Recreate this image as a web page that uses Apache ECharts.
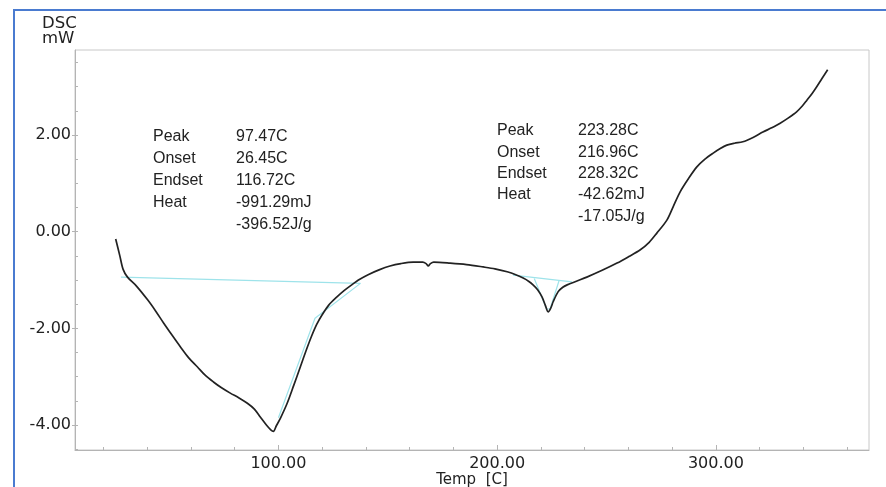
<!DOCTYPE html>
<html>
<head>
<meta charset="utf-8">
<script src="https://cdn.jsdelivr.net/npm/echarts@6/dist/echarts.min.js"></script>
<style>
  html, body { margin: 0; padding: 0; background: #fff; }
  #chart { width: 886px; height: 487px; }
</style>
</head>
<body>
<div id="chart"></div>
<script>
// DSC thermogram: heat flow (mW) vs temperature (C)
const tempC = [
  25.6, 27.5, 29.0, 31.0, 35.0, 40.2, 44.0, 47.5, 51.5, 55.3,
  59.0, 63.0, 66.5, 70.3, 74.0, 78.0, 82.0, 85.8, 89.0, 91.8,
  94.5, 96.5, 97.7, 99.0, 101.0, 104.0, 107.0, 110.0, 112.5, 115.0,
  117.5, 120.0, 123.0, 126.5, 130.0, 133.5, 137.0, 141.0, 146.0, 151.0,
  156.0, 161.6, 166.0, 167.5, 168.5, 169.5, 171.0, 178.5, 186.0,
  193.6, 199.0, 204.6, 208.5, 211.9, 214.5, 216.4, 218.5, 220.5, 222.0,
  223.3, 224.5, 225.6, 227.9, 230.0, 232.0, 236.5, 241.0, 248.0, 254.8,
  260.0, 265.3, 269.5, 273.0, 277.6, 280.5, 283.6, 287.5, 291.3, 295.0,
  298.6, 302.0, 305.0, 308.5, 312.3, 317.0, 321.5, 325.5, 329.2, 333.0,
  336.9, 339.5, 341.6, 344.0, 346.1, 348.5, 351.1
];
const dscMw = [
  -0.15, -0.50, -0.78, -0.94, -1.12, -1.41, -1.65, -1.89, -2.15, -2.39,
  -2.61, -2.80, -2.97, -3.11, -3.23, -3.34, -3.44, -3.55, -3.67, -3.84,
  -4.00, -4.10, -4.13, -4.02, -3.85, -3.55, -3.18, -2.80, -2.48, -2.18,
  -1.92, -1.72, -1.52, -1.36, -1.22, -1.10, -0.99, -0.89, -0.79, -0.71,
  -0.66, -0.63, -0.63, -0.66, -0.71, -0.66, -0.63, -0.65, -0.68,
  -0.73, -0.77, -0.83, -0.89, -0.96, -1.03, -1.10, -1.20, -1.35, -1.52,
  -1.66, -1.58, -1.45, -1.24, -1.15, -1.10, -1.02, -0.94, -0.80, -0.65,
  -0.52, -0.38, -0.22, -0.03, 0.24, 0.52, 0.82, 1.10, 1.34, 1.50,
  1.62, 1.72, 1.79, 1.83, 1.86, 1.95, 2.06, 2.15, 2.24, 2.35,
  2.48, 2.60, 2.72, 2.86, 3.00, 3.17, 3.35
];

// Baseline and tangent construction lines (temperature, mW)
const peak1BaseT = [28.0, 137.5];
const peak1BaseY = [-0.94, -1.07];
const peak1TangentT = [100.0, 116.72, 137.5];
const peak1TangentY = [-3.85, -1.79, -1.07];
const peak2BaseT = [207.3, 234.2];
const peak2BaseY = [-0.90, -1.04];
const peak2TangentT = [216.96, 222.6, 224.2, 228.32];
const peak2TangentY = [-0.97, -1.60, -1.60, -1.01];

// Axis ticks and labels
const xMajorTicks = [100, 200, 300];
const xMinorTicks = [20, 40, 60, 80, 100, 120, 140, 160, 180, 200, 220, 240, 260, 280, 300, 320, 340, 360];
const yMajorTicks = [-4, -2, 0, 2];
const yMinorTicks = [-4.5, -4, -3.5, -3, -2.5, -2, -1.5, -1, -0.5, 0, 0.5, 1, 1.5, 2, 2.5, 3, 3.5];

// Peak analysis results
const peak1Labels = ['Peak', 'Onset', 'Endset', 'Heat', ''];
const peak1Values = ['97.47C', '26.45C', '116.72C', '-991.29mJ', '-396.52J/g'];
const peak2Labels = ['Peak', 'Onset', 'Endset', 'Heat', ''];
const peak2Values = ['223.28C', '216.96C', '228.32C', '-42.62mJ', '-17.05J/g'];

const zip = (a, b) => a.map((v, i) => [v, b[i]]);

const SANS = '"Liberation Sans", Arial, sans-serif';
const WIDE = '"DejaVu Sans", sans-serif';
const TEXT = '#222';
const AXIS = '#b4b4b4';
const CYAN = '#9ee3ea';

const chart = echarts.init(document.getElementById('chart'), null, { renderer: 'canvas' });

function tableText(labels, values, labelX, valueX, firstY, step) {
  const out = [];
  labels.forEach((lab, i) => {
    const y = firstY + i * step;
    if (lab) out.push({ type: 'text', x: labelX, y: y, style: { text: lab, fontSize: 16, fontFamily: SANS, fill: TEXT, verticalAlign: 'middle' } });
    out.push({ type: 'text', x: valueX, y: y, style: { text: values[i], fontSize: 16, fontFamily: SANS, fill: TEXT, verticalAlign: 'middle' } });
  });
  return out;
}

const tickText = { color: TEXT, fontSize: 16, fontFamily: WIDE };

chart.setOption({
  animation: false,
  backgroundColor: '#fff',
  grid: {
    left: 75, right: 17, top: 50, bottom: 37,
    outerBoundsMode: 'none', containLabel: false,
    show: true, borderColor: '#c8c8c8', borderWidth: 1
  },
  xAxis: [
    {
      type: 'value', min: 7, max: 370,
      name: 'Temp  [C]', nameLocation: 'middle', nameGap: 23, nameMoveOverlap: false,
      nameTextStyle: { color: TEXT, fontSize: 15, fontFamily: WIDE },
      axisLine: { onZero: false, lineStyle: { color: AXIS } },
      axisTick: { inside: true, length: 3, lineStyle: { color: AXIS }, customValues: xMinorTicks },
      axisLabel: { customValues: xMajorTicks, formatter: v => v.toFixed(2), margin: 6, ...tickText },
      splitLine: { show: false }
    },
    {
      type: 'value', min: 7, max: 370, position: 'bottom',
      axisLine: { show: false, onZero: false },
      axisTick: { inside: true, length: 5, lineStyle: { color: AXIS }, customValues: xMajorTicks },
      axisLabel: { show: false },
      splitLine: { show: false }
    }
  ],
  yAxis: [
    {
      type: 'value', min: -4.517, max: 3.759,
      axisLine: { show: true, onZero: false, lineStyle: { color: AXIS } },
      axisTick: { show: true, inside: true, length: 3, lineStyle: { color: AXIS }, customValues: yMinorTicks },
      axisLabel: { customValues: yMajorTicks, formatter: v => v.toFixed(2), margin: 4, ...tickText },
      splitLine: { show: false }
    },
    {
      type: 'value', min: -4.517, max: 3.759, position: 'left',
      axisLine: { show: false, onZero: false },
      axisTick: { show: true, inside: false, length: 3, lineStyle: { color: AXIS }, customValues: yMajorTicks },
      axisLabel: { show: false },
      splitLine: { show: false }
    }
  ],
  series: [
    { type: 'line', data: zip(peak1BaseT, peak1BaseY), symbol: 'none', lineStyle: { color: CYAN, width: 1.2 }, z: 1 },
    { type: 'line', data: zip(peak1TangentT, peak1TangentY), symbol: 'none', lineStyle: { color: CYAN, width: 1.2 }, z: 1 },
    { type: 'line', data: zip(peak2BaseT, peak2BaseY), symbol: 'none', lineStyle: { color: CYAN, width: 1.2 }, z: 1 },
    { type: 'line', data: zip(peak2TangentT, peak2TangentY), symbol: 'none', lineStyle: { color: CYAN, width: 1.2 }, z: 1 },
    {
      type: 'line', data: zip(tempC, dscMw), symbol: 'none', smooth: 0.3,
      lineStyle: { color: '#222', width: 1.7 }, z: 3
    }
  ],
  graphic: [
    // outer frame
    { type: 'rect', shape: { x: 14, y: 10, width: 900, height: 500 }, style: { fill: 'none', stroke: '#4a7bd0', lineWidth: 2 }, silent: true },
    { type: 'text', x: 42, y: 24, style: { text: 'DSC', fontSize: 16.5, fontFamily: WIDE, fill: TEXT, verticalAlign: 'middle' } },
    { type: 'text', x: 42, y: 39, style: { text: 'mW', fontSize: 16.5, fontFamily: WIDE, fill: TEXT, verticalAlign: 'middle' } },
    ...tableText(peak1Labels, peak1Values, 153, 236, 137, 22),
    ...tableText(peak2Labels, peak2Values, 497, 578, 131, 21.3)
  ]
});
</script>
</body>
</html>
